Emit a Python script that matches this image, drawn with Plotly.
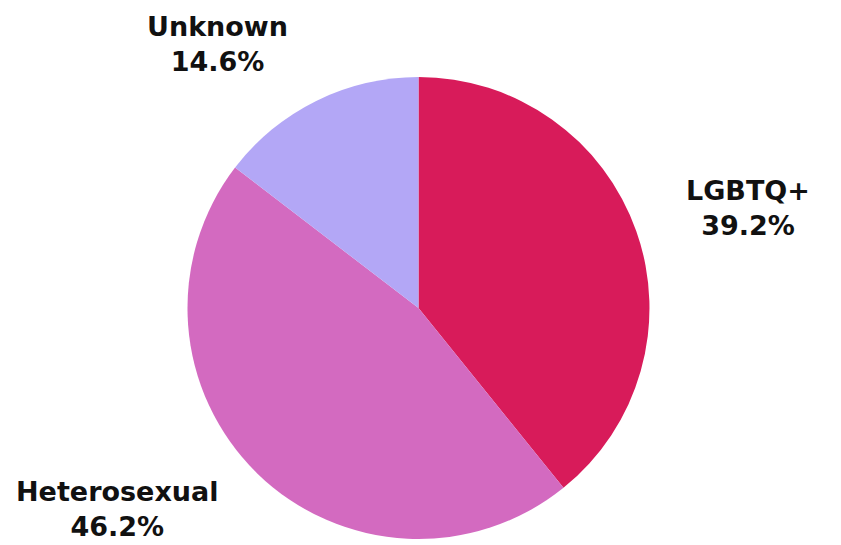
import plotly.graph_objects as go

labels = ["LGBTQ+", "Heterosexual", "Unknown"]
values = [39.2, 46.2, 14.6]
colors = ["#D81B5A", "#D36AC0", "#B3A7F6"]
# label anchor positions (paper coords) for the outside labels
label_pos = {"LGBTQ+": (0.890, 0.618), "Heterosexual": (0.140, 0.066), "Unknown": (0.259, 0.920)}

fig = go.Figure(go.Pie(
    labels=labels, values=values, sort=False, direction="clockwise", rotation=0,
    marker=dict(colors=colors, line=dict(width=0)),
    textinfo="none", hoverinfo="label+percent", showlegend=False,
    domain=dict(x=[0.2229, 0.7723], y=[0.011, 0.8587]),
))

total = sum(values)
for lab, val in zip(labels, values):
    x, y = label_pos[lab]
    fig.add_annotation(
        x=x, y=y, xref="paper", yref="paper", xanchor="center", yanchor="middle",
        text=f"{lab}<br>{val / total * 100:.1f}%", showarrow=False,
        font=dict(family="DejaVu Sans", size=27, color="#111111", weight="bold"),
    )

fig.update_layout(
    width=841, height=545, margin=dict(l=0, r=0, t=0, b=0),
    paper_bgcolor="white", plot_bgcolor="white",
)
fig.write_html(
    "out.html",
    config={"displayModeBar": False},
    post_script="document.body.style.margin='0';document.body.style.overflow='hidden';",
)
